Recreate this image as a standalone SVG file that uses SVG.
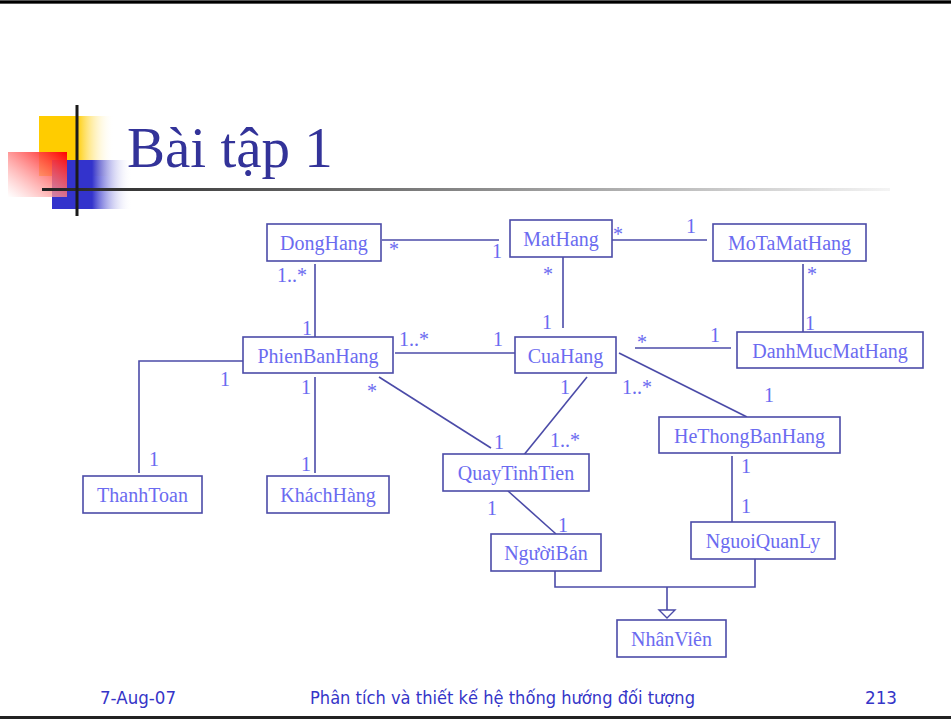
<svg xmlns="http://www.w3.org/2000/svg" width="951" height="719" viewBox="0 0 951 719">
<defs>
<linearGradient id="gYel" x1="0" y1="0" x2="1" y2="0"><stop offset="0" stop-color="#ffcc00"/><stop offset="0.5" stop-color="#ffcc00"/><stop offset="1" stop-color="#ffffff" stop-opacity="0"/></linearGradient>
<linearGradient id="gBlue" x1="0" y1="0" x2="1" y2="0"><stop offset="0" stop-color="#3333cc"/><stop offset="0.5" stop-color="#3333cc"/><stop offset="1" stop-color="#ffffff" stop-opacity="0"/></linearGradient>
<linearGradient id="gRed" x1="1" y1="0" x2="0" y2="1"><stop offset="0" stop-color="#ff0000"/><stop offset="1" stop-color="#ffffff" stop-opacity="0.6"/></linearGradient>
<linearGradient id="gLine" x1="0" y1="0" x2="1" y2="0"><stop offset="0" stop-color="#222222"/><stop offset="0.5" stop-color="#888888"/><stop offset="1" stop-color="#f4f4f4"/></linearGradient>
<style>
.box{fill:#ffffff;stroke:#4b4ba8;stroke-width:1.6}
.nt{font-family:"Liberation Serif","Times New Roman",serif;font-size:20px;fill:#6b6bf0;text-anchor:middle}
.lb{font-family:"Liberation Serif","Times New Roman",serif;font-size:20px;fill:#6b6bf0}
.ln{fill:none;stroke:#4b4ba8;stroke-width:1.6}
.ft{font-family:"DejaVu Sans",Tahoma,sans-serif;font-size:18px;fill:#3535c8}
</style>
</defs>
<rect width="951" height="719" fill="#ffffff"/>
<rect x="0" y="0" width="951" height="4" fill="#555555"/>
<rect x="0" y="1" width="951" height="2" fill="#000000"/>
<rect x="0" y="716" width="951" height="3" fill="#222222"/>

<g id="title-decor">
<rect x="39" y="116" width="75" height="60" fill="url(#gYel)"/>
<rect x="52" y="160" width="80" height="49" fill="url(#gBlue)"/>
<rect x="8" y="152" width="59" height="45" fill="url(#gRed)"/>
<rect x="42" y="188" width="848" height="3" fill="url(#gLine)"/>
<rect x="75.5" y="105" width="3" height="111" fill="#1a1a1a"/>
</g>
<text x="127" y="167" font-family="'Liberation Serif','Times New Roman',serif" font-size="57" fill="#333399">Bài tập 1</text>

<g id="connectors">
<line class="ln" x1="382" y1="240" x2="499" y2="240"/>
<line class="ln" x1="612" y1="240" x2="707" y2="240"/>
<line class="ln" x1="563" y1="257" x2="563" y2="328"/>
<line class="ln" x1="803" y1="264" x2="803" y2="337"/>
<line class="ln" x1="635" y1="348" x2="731" y2="348"/>
<line class="ln" x1="315" y1="264" x2="315" y2="337"/>
<line class="ln" x1="395" y1="353" x2="515" y2="353"/>
<polyline class="ln" points="243,361 139,361 139,473"/>
<line class="ln" x1="315" y1="377" x2="315" y2="473"/>
<line class="ln" x1="379" y1="377" x2="491" y2="448" stroke-width="1.2"/>
<line class="ln" x1="587" y1="377" x2="523" y2="456" stroke-width="1.2"/>
<line class="ln" x1="619" y1="353" x2="747" y2="417" stroke-width="1.2"/>
<line class="ln" x1="732" y1="456" x2="732" y2="522"/>
<line class="ln" x1="508" y1="491" x2="556" y2="534" stroke-width="1.2"/>
<polyline class="ln" points="555,571 555,587 755,587 755,559"/>
<line class="ln" x1="667" y1="587" x2="667" y2="610"/>
<polygon points="659,610 675,610 667,618" fill="#ffffff" stroke="#4b4ba8" stroke-width="1.4"/>
</g>

<g id="labels">
<text class="lb" x="389" y="256">*</text>
<text class="lb" x="492" y="258">1</text>
<text class="lb" x="613" y="241">*</text>
<text class="lb" x="686" y="233">1</text>
<text class="lb" x="543" y="281">*</text>
<text class="lb" x="542" y="329">1</text>
<text class="lb" x="807" y="281">*</text>
<text class="lb" x="805" y="330">1</text>
<text class="lb" x="637" y="349">*</text>
<text class="lb" x="710" y="342">1</text>
<text class="lb" x="277" y="282">1..*</text>
<text class="lb" x="302" y="335">1</text>
<text class="lb" x="399" y="346">1..*</text>
<text class="lb" x="493" y="346">1</text>
<text class="lb" x="220" y="386">1</text>
<text class="lb" x="149" y="466">1</text>
<text class="lb" x="301" y="394">1</text>
<text class="lb" x="301" y="471">1</text>
<text class="lb" x="367" y="398">*</text>
<text class="lb" x="494" y="449">1</text>
<text class="lb" x="560" y="394">1</text>
<text class="lb" x="550" y="447">1..*</text>
<text class="lb" x="622" y="394">1..*</text>
<text class="lb" x="764" y="402">1</text>
<text class="lb" x="741" y="473">1</text>
<text class="lb" x="741" y="513">1</text>
<text class="lb" x="487" y="515">1</text>
<text class="lb" x="558" y="532">1</text>
</g>

<g id="DongHang"><rect class="box" x="267" y="224" width="114" height="37"/><text class="nt" x="324" y="250">DongHang</text></g>
<g id="MatHang"><rect class="box" x="510" y="220" width="102" height="37"/><text class="nt" x="561" y="246">MatHang</text></g>
<g id="MoTaMatHang"><rect class="box" x="713" y="224" width="153" height="37"/><text class="nt" x="789.5" y="250">MoTaMatHang</text></g>
<g id="DanhMucMatHang"><rect class="box" x="737" y="332" width="186" height="36"/><text class="nt" x="830" y="358">DanhMucMatHang</text></g>
<g id="PhienBanHang"><rect class="box" x="243" y="337" width="150" height="36"/><text class="nt" x="318" y="363">PhienBanHang</text></g>
<g id="CuaHang"><rect class="box" x="515" y="337" width="101" height="36"/><text class="nt" x="565.5" y="363">CuaHang</text></g>
<g id="ThanhToan"><rect class="box" x="83" y="476" width="119" height="37"/><text class="nt" x="142.5" y="502">ThanhToan</text></g>
<g id="KhachHang"><rect class="box" x="267" y="476" width="122" height="37"/><text class="nt" x="328" y="502">KháchHàng</text></g>
<g id="HeThongBanHang"><rect class="box" x="659" y="417" width="181" height="36"/><text class="nt" x="749.5" y="443">HeThongBanHang</text></g>
<g id="QuayTinhTien"><rect class="box" x="443" y="454" width="146" height="37"/><text class="nt" x="516" y="480">QuayTinhTien</text></g>
<g id="NguoiBan"><rect class="box" x="491" y="534" width="110" height="37"/><text class="nt" x="546" y="560">NgườiBán</text></g>
<g id="NguoiQuanLy"><rect class="box" x="691" y="522" width="144" height="37"/><text class="nt" x="763" y="548">NguoiQuanLy</text></g>
<g id="NhanVien"><rect class="box" x="617" y="620" width="109" height="37"/><text class="nt" x="671.5" y="646">NhânViên</text></g>

<g id="footer">
<text class="ft" x="100" y="704" textLength="76" lengthAdjust="spacingAndGlyphs">7-Aug-07</text>
<text class="ft" x="310" y="704" textLength="385" lengthAdjust="spacingAndGlyphs">Phân tích và thiết kế hệ thống hướng đối tượng</text>
<text class="ft" x="865" y="704" textLength="32" lengthAdjust="spacingAndGlyphs">213</text>
</g>
</svg>
